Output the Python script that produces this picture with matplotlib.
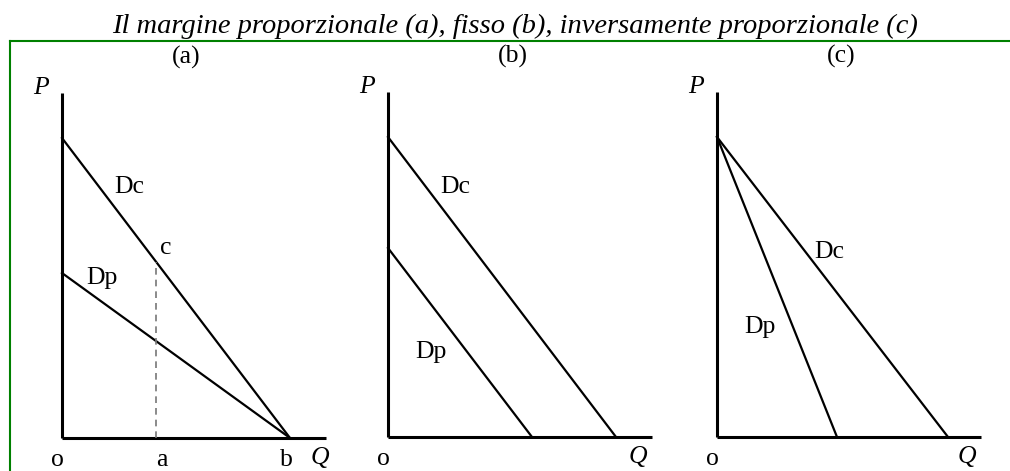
import matplotlib.pyplot as plt
from matplotlib.lines import Line2D

# demand curves: price intercept and quantity intercept for each panel
panels = ["(a)", "(b)", "(c)"]
dc_p = [10.0, 10.0, 10.0]
dc_q = [7.6, 7.6, 7.7]
dp_p = [5.5, 6.3, 10.0]
dp_q = [7.6, 4.8, 4.0]

# quantity "a" in panel (a), where the dashed guide is drawn
q_a = 3.13

# label positions (data units) per panel
dc_label = [(2.23, 8.37), (2.23, 8.33), (3.73, 6.17)]
dp_label = [(1.33, 5.33), (1.43, 2.83), (1.43, 3.67)]

title = "Il margine proporzionale (a), fisso (b), inversamente proporzionale (c)"

W, H = 1010, 471
S = 30.0  # pixels per data unit
origins = [(62, 438), (388, 437), (717, 437)]
XLIM = (-1.5, 9.5)
YLIM = (-1.5, 13.5)

plt.rcParams["font.family"] = ["Liberation Serif", "DejaVu Serif"]

fig = plt.figure(figsize=(W / 100, H / 100), dpi=100)

# green frame along top and left
fig.add_artist(Line2D([10 / W, 1.0], [1 - 41 / H, 1 - 41 / H], color="#008000", lw=1.5))
fig.add_artist(Line2D([10 / W, 10 / W], [0.0, 1 - 41 / H], color="#008000", lw=1.5))

fig.text(515 / W, 1 - 33 / H, title, ha="center", va="baseline",
         fontsize=20.5, style="italic")

axis_top = 11.5
axis_right = 8.8

for i, (ox, oy) in enumerate(origins):
    left = ox + XLIM[0] * S
    bottom = H - oy + YLIM[0] * S
    ax = fig.add_axes([left / W, bottom / H,
                       (XLIM[1] - XLIM[0]) * S / W, (YLIM[1] - YLIM[0]) * S / H])
    ax.set_xlim(*XLIM)
    ax.set_ylim(*YLIM)
    ax.axis("off")

    # axes
    ax.plot([0, 0], [0, axis_top], color="black", lw=2.2, solid_capstyle="butt")
    ax.plot([0, axis_right], [0, 0], color="black", lw=2.2, solid_capstyle="butt")

    # demand curves
    ax.plot([0, dc_q[i]], [dc_p[i], 0], color="black", lw=1.6)
    ax.plot([0, dp_q[i]], [dp_p[i], 0], color="black", lw=1.6)

    ax.text(4.15, 12.67, panels[i], ha="center", va="center", fontsize=18.5)
    ax.text(-0.7, 11.67, "P", ha="center", va="center", fontsize=18.5, style="italic")
    ax.text(-0.15, -0.72, "o", ha="center", va="center", fontsize=18.5)
    qx = 8.6 if i == 0 else 8.32
    ax.text(qx, -0.68, "Q", ha="center", va="center", fontsize=18.5, style="italic")

    ax.text(*dc_label[i], "Dc", ha="center", va="center", fontsize=18.5)
    ax.text(*dp_label[i], "Dp", ha="center", va="center", fontsize=18.5)

    if i == 0:
        y_c = dc_p[0] * (1 - q_a / dc_q[0])
        ax.plot([q_a, q_a], [0, y_c], color="#777777", lw=1.2, dashes=(4, 3))
        ax.text(3.47, 6.33, "c", ha="center", va="center", fontsize=18.5)
        ax.text(3.33, -0.72, "a", ha="center", va="center", fontsize=18.5)
        ax.text(7.47, -0.72, "b", ha="center", va="center", fontsize=18.5)

fig.savefig("out.png", dpi=100)
